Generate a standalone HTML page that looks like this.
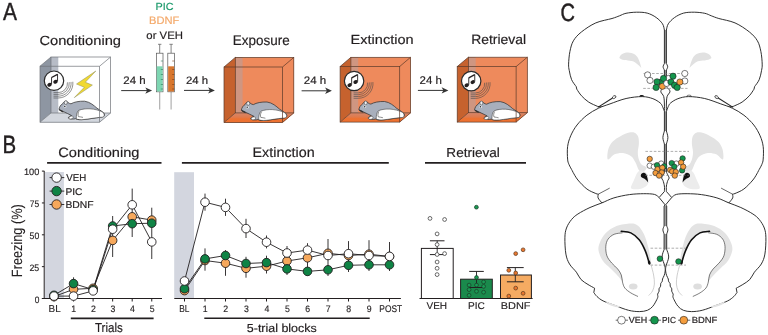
<!DOCTYPE html>
<html><head><meta charset="utf-8"><style>
html,body{margin:0;padding:0;background:#fff;}
svg{display:block;will-change:transform;}
text{font-family:"Liberation Sans", sans-serif;text-rendering:geometricPrecision;}
</style></head><body>
<svg width="768" height="335" viewBox="0 0 768 335">
<defs><linearGradient id="floorg" x1="0" y1="0" x2="0" y2="1"><stop offset="0" stop-color="#d5866a"/><stop offset="0.45" stop-color="#e07a4c"/><stop offset="0.62" stop-color="#ec7232"/><stop offset="1" stop-color="#ee7130"/></linearGradient></defs>
<rect width="768" height="335" fill="#fff"/>
<text x="3.06" y="20.20" font-size="24.855" textLength="13.98" lengthAdjust="spacingAndGlyphs" fill="#231f20" stroke="#231f20" stroke-width="0.45" stroke-linejoin="round">A</text><text x="39.45" y="44.80" font-size="13.249" textLength="81.59" lengthAdjust="spacingAndGlyphs" fill="#231f20" stroke="#231f20" stroke-width="0.18" stroke-linejoin="round">Conditioning</text><text x="155.41" y="10.00" font-size="10.312" textLength="18.10" lengthAdjust="spacingAndGlyphs" fill="#1d9a6c" stroke="#1d9a6c" stroke-width="0.18" stroke-linejoin="round">PIC</text><text x="149.09" y="24.40" font-size="10.901" textLength="30.26" lengthAdjust="spacingAndGlyphs" fill="#f4a96a" stroke="#f4a96a" stroke-width="0.18" stroke-linejoin="round">BDNF</text><text x="146.32" y="38.60" font-size="10.901" textLength="36.60" lengthAdjust="spacingAndGlyphs" fill="#231f20" stroke="#231f20" stroke-width="0.18" stroke-linejoin="round">or VEH</text><text x="232.80" y="44.90" font-size="13.954" textLength="56.90" lengthAdjust="spacingAndGlyphs" fill="#231f20" stroke="#231f20" stroke-width="0.18" stroke-linejoin="round">Exposure</text><text x="350.61" y="44.10" font-size="13.249" textLength="63.04" lengthAdjust="spacingAndGlyphs" fill="#231f20" stroke="#231f20" stroke-width="0.18" stroke-linejoin="round">Extinction</text><text x="471.16" y="44.20" font-size="13.525" textLength="54.97" lengthAdjust="spacingAndGlyphs" fill="#231f20" stroke="#231f20" stroke-width="0.18" stroke-linejoin="round">Retrieval</text><text x="123.32" y="84.20" font-size="10.902" textLength="22.32" lengthAdjust="spacingAndGlyphs" fill="#231f20" stroke="#231f20" stroke-width="0.2" stroke-linejoin="round">24 h</text><text x="186.03" y="83.90" font-size="10.764" textLength="22.11" lengthAdjust="spacingAndGlyphs" fill="#231f20" stroke="#231f20" stroke-width="0.2" stroke-linejoin="round">24 h</text><text x="303.72" y="84.20" font-size="10.902" textLength="22.43" lengthAdjust="spacingAndGlyphs" fill="#231f20" stroke="#231f20" stroke-width="0.2" stroke-linejoin="round">24 h</text><text x="419.62" y="83.90" font-size="11.178" textLength="22.32" lengthAdjust="spacingAndGlyphs" fill="#231f20" stroke="#231f20" stroke-width="0.2" stroke-linejoin="round">24 h</text><line x1="121.2" y1="90.6" x2="149.1" y2="90.6" stroke="#333" stroke-width="1"/><path d="M152.1,90.6 L145.29999999999998,87.39999999999999 L147.1,90.6 L145.29999999999998,93.8 Z" fill="#333"/><line x1="184" y1="90.4" x2="211.9" y2="90.4" stroke="#333" stroke-width="1"/><path d="M214.9,90.4 L208.1,87.2 L209.9,90.4 L208.1,93.60000000000001 Z" fill="#333"/><line x1="301.6" y1="90.8" x2="328.9" y2="90.8" stroke="#333" stroke-width="1"/><path d="M331.9,90.8 L325.09999999999997,87.6 L326.9,90.8 L325.09999999999997,94.0 Z" fill="#333"/><line x1="417.9" y1="90.4" x2="445.4" y2="90.4" stroke="#333" stroke-width="1"/><path d="M448.4,90.4 L441.59999999999997,87.2 L443.4,90.4 L441.59999999999997,93.60000000000001 Z" fill="#333"/><line x1="159.70000000000002" y1="91.8" x2="159.70000000000002" y2="109.6" stroke="#a9a9a9" stroke-width="1.1"/><line x1="159.70000000000002" y1="44.3" x2="159.70000000000002" y2="53.2" stroke="#666" stroke-width="0.8"/><line x1="158.00000000000003" y1="44.3" x2="161.4" y2="44.3" stroke="#666" stroke-width="0.8"/><rect x="156.4" y="53.2" width="6.6" height="38.6" fill="#fff" stroke="#555" stroke-width="0.7"/><rect x="156.75" y="66.3" width="5.8999999999999995" height="25.2" fill="#7ed6b2"/><line x1="160.8" y1="61" x2="163.0" y2="61" stroke="#2b7a5b" stroke-width="0.6"/><line x1="160.8" y1="69.5" x2="163.0" y2="69.5" stroke="#2b7a5b" stroke-width="0.6"/><line x1="160.8" y1="74.5" x2="163.0" y2="74.5" stroke="#2b7a5b" stroke-width="0.6"/><line x1="160.8" y1="79.5" x2="163.0" y2="79.5" stroke="#2b7a5b" stroke-width="0.6"/><line x1="160.8" y1="84.5" x2="163.0" y2="84.5" stroke="#2b7a5b" stroke-width="0.6"/><line x1="160.8" y1="89" x2="163.0" y2="89" stroke="#2b7a5b" stroke-width="0.6"/><line x1="171.10000000000002" y1="91.8" x2="171.10000000000002" y2="109.6" stroke="#a9a9a9" stroke-width="1.1"/><line x1="171.10000000000002" y1="44.3" x2="171.10000000000002" y2="53.2" stroke="#666" stroke-width="0.8"/><line x1="169.40000000000003" y1="44.3" x2="172.8" y2="44.3" stroke="#666" stroke-width="0.8"/><rect x="167.8" y="53.2" width="6.6" height="38.6" fill="#fff" stroke="#555" stroke-width="0.7"/><rect x="168.15" y="66.3" width="5.8999999999999995" height="25.2" fill="#d8772f"/><line x1="172.20000000000002" y1="61" x2="174.4" y2="61" stroke="#7a3a10" stroke-width="0.6"/><line x1="172.20000000000002" y1="69.5" x2="174.4" y2="69.5" stroke="#7a3a10" stroke-width="0.6"/><line x1="172.20000000000002" y1="74.5" x2="174.4" y2="74.5" stroke="#7a3a10" stroke-width="0.6"/><line x1="172.20000000000002" y1="79.5" x2="174.4" y2="79.5" stroke="#7a3a10" stroke-width="0.6"/><line x1="172.20000000000002" y1="84.5" x2="174.4" y2="84.5" stroke="#7a3a10" stroke-width="0.6"/><line x1="172.20000000000002" y1="89" x2="174.4" y2="89" stroke="#7a3a10" stroke-width="0.6"/><g><rect x="51" y="57.0" width="59.6" height="56" fill="#ffffff"/><rect x="51" y="57.0" width="7.3" height="56" fill="#b7bcc6"/><polygon points="40,66.2 51,57.0 51,113.0 40,122.2" fill="#8e96a2"/><polygon points="40,122.2 51,113.0 110.6,113.0 99.6,122.2" fill="#d3d7de"/><polygon points="99.6,66.2 110.6,57.0 110.6,113.0 99.6,122.2" fill="#fff"/><polygon points="40,122.2 51,113.0 110.6,113.0 99.6,122.2" fill="#d3d7de"/><rect x="51" y="57.0" width="59.6" height="56" stroke="#6f7378" stroke-width="0.7" fill="none"/><line x1="40" y1="66.2" x2="51" y2="57.0" stroke="#6f7378" stroke-width="0.7" fill="none"/><line x1="99.6" y1="66.2" x2="110.6" y2="57.0" stroke="#6f7378" stroke-width="0.7" fill="none"/><line x1="40" y1="122.2" x2="51" y2="113.0" stroke="#6f7378" stroke-width="0.7" fill="none"/><line x1="99.6" y1="122.2" x2="110.6" y2="113.0" stroke="#6f7378" stroke-width="0.7" fill="none"/><path d="M67.45,82.33 A9.3,9.3 0 0 1 58.20,92.60 L53.50,92.60" fill="none" stroke="#4a4a4a" stroke-width="0.6"/><path d="M69.24,82.14 A11.1,11.1 0 0 1 58.20,94.40 L53.50,94.40" fill="none" stroke="#4a4a4a" stroke-width="0.6"/><path d="M71.03,81.95 A12.9,12.9 0 0 1 58.20,96.20 L53.50,96.20" fill="none" stroke="#4a4a4a" stroke-width="0.6"/><path d="M72.82,81.76 A14.7,14.7 0 0 1 58.20,98.00 L53.50,98.00" fill="none" stroke="#4a4a4a" stroke-width="0.6"/><circle cx="54.0" cy="80.7" r="9.7" fill="#fff" stroke="#2a2a2a" stroke-width="1.2"/><g fill="#231f20" stroke="#231f20"><ellipse cx="49.5" cy="84.8" rx="2.3" ry="1.85" transform="rotate(-25 49.5 84.8)" stroke="none"/><ellipse cx="55.5" cy="81.7" rx="2.3" ry="1.85" transform="rotate(-25 55.5 81.7)" stroke="none"/><line x1="51.55" y1="84.3" x2="51.55" y2="77.3" stroke-width="0.9"/><line x1="57.55" y1="81.2" x2="57.55" y2="74.10000000000001" stroke-width="0.9"/><path d="M51.55,77.5 L57.55,74.3" stroke-width="1.35" fill="none"/></g><polygon points="95.8,71 76.5,84 84.3,87.3 74.3,97.6 92.4,85.1 85.3,82.3" fill="#f1d930" stroke="#8a8a5a" stroke-width="0.5" stroke-linejoin="miter"/><g transform="translate(59.0,109.4)"><path d="M0,0 C0.2,-2.2 1.6,-4.6 3.8,-5.8 C4.5,-8 7.8,-9.4 8.8,-7 C10,-6.2 11,-5.6 12,-5.6 C15,-7.4 20,-8.4 25.6,-8.2 C31,-7.5 35,-3.8 38,-1.2 C41,1 44.8,2.6 45.4,4.8 C45.8,6.6 44.5,7.6 41.5,7.9 C36,8.4 30,9.6 25,10.1 C21,10.5 18,10.3 16.5,9.3 C15,9.9 11,9.9 9.4,8.7 C8.8,7.7 11,6.7 12.5,6.1 C10,5 7,3.2 4,2 C2.5,1.5 0.8,1 0,0 Z" fill="#a8afbc" stroke="#333" stroke-width="0.75" stroke-linejoin="round"/><path d="M17.3,9.4 C17.4,6 17.6,3 19.6,1.0 C23,-0.4 27,-0.8 31,-0.6 C35.5,-0.3 40,0.8 43.5,2.6 C45.3,4 45.8,6.2 44.5,7.5 C43,7.9 42,7.9 41.5,7.9 C36,8.4 30,9.6 25,10.1 C21,10.5 18.5,10.2 17.3,9.4 Z" fill="#fff" stroke="#333" stroke-width="0.55"/><path d="M20,1.8 C19,3.6 18.8,5.6 19.4,7.2 C20.8,7.6 22.5,7.4 24,8.0" fill="none" stroke="#333" stroke-width="0.55"/><path d="M9.6,8.6 C10,7.3 12,6.5 13.6,6.7 C14.6,7.7 14.2,9.3 12,9.6 C10.8,9.7 9.8,9.4 9.6,8.6 Z" fill="#fff" stroke="#333" stroke-width="0.5"/><ellipse cx="6.8" cy="-6.8" rx="1.5" ry="1.9" fill="#eef0f3" stroke="#333" stroke-width="0.5"/><ellipse cx="6.0" cy="-3.0" rx="1.4" ry="1.2" fill="#e8ebef"/><circle cx="5.8" cy="-3.0" r="0.7" fill="#222"/><path d="M-0.2,0.1 C0.5,1.4 2.2,2.6 4.4,3.0 C4.6,2.0 3.6,1.2 2.2,0.6 C1.2,0.2 0.6,-0.4 -0.2,0.1 Z" fill="#333"/></g><rect x="40" y="66.2" width="59.6" height="56" stroke="#6f7378" stroke-width="0.7" fill="none"/></g><g><rect x="235.3" y="57.4" width="58.5" height="55.5" fill="#ee8a5c"/><rect x="235.3" y="57.4" width="7.3" height="55.5" fill="#cf9681"/><polygon points="224,67.0 235.3,57.4 235.3,112.9 224,122.5" fill="#c6622e"/><polygon points="224,122.5 235.3,112.9 293.8,112.9 282.5,122.5" fill="#e8743c"/><polygon points="282.5,67.0 293.8,57.4 293.8,112.9 282.5,122.5" fill="#ee8a5c"/><polygon points="224,122.5 235.3,112.9 293.8,112.9 282.5,122.5" fill="url(#floorg)"/><rect x="235.3" y="57.4" width="58.5" height="55.5" stroke="#5a3a2a" stroke-width="0.7" fill="none"/><line x1="224" y1="67.0" x2="235.3" y2="57.4" stroke="#5a3a2a" stroke-width="0.7" fill="none"/><line x1="282.5" y1="67.0" x2="293.8" y2="57.4" stroke="#5a3a2a" stroke-width="0.7" fill="none"/><line x1="224" y1="122.5" x2="235.3" y2="112.9" stroke="#5a3a2a" stroke-width="0.7" fill="none"/><line x1="282.5" y1="122.5" x2="293.8" y2="112.9" stroke="#5a3a2a" stroke-width="0.7" fill="none"/><g transform="translate(241.4,110.2)"><path d="M0,0 C0.2,-2.2 1.6,-4.6 3.8,-5.8 C4.5,-8 7.8,-9.4 8.8,-7 C10,-6.2 11,-5.6 12,-5.6 C15,-7.4 20,-8.4 25.6,-8.2 C31,-7.5 35,-3.8 38,-1.2 C41,1 44.8,2.6 45.4,4.8 C45.8,6.6 44.5,7.6 41.5,7.9 C36,8.4 30,9.6 25,10.1 C21,10.5 18,10.3 16.5,9.3 C15,9.9 11,9.9 9.4,8.7 C8.8,7.7 11,6.7 12.5,6.1 C10,5 7,3.2 4,2 C2.5,1.5 0.8,1 0,0 Z" fill="#a8afbc" stroke="#333" stroke-width="0.75" stroke-linejoin="round"/><path d="M17.3,9.4 C17.4,6 17.6,3 19.6,1.0 C23,-0.4 27,-0.8 31,-0.6 C35.5,-0.3 40,0.8 43.5,2.6 C45.3,4 45.8,6.2 44.5,7.5 C43,7.9 42,7.9 41.5,7.9 C36,8.4 30,9.6 25,10.1 C21,10.5 18.5,10.2 17.3,9.4 Z" fill="#fff" stroke="#333" stroke-width="0.55"/><path d="M20,1.8 C19,3.6 18.8,5.6 19.4,7.2 C20.8,7.6 22.5,7.4 24,8.0" fill="none" stroke="#333" stroke-width="0.55"/><path d="M9.6,8.6 C10,7.3 12,6.5 13.6,6.7 C14.6,7.7 14.2,9.3 12,9.6 C10.8,9.7 9.8,9.4 9.6,8.6 Z" fill="#fff" stroke="#333" stroke-width="0.5"/><ellipse cx="6.8" cy="-6.8" rx="1.5" ry="1.9" fill="#eef0f3" stroke="#333" stroke-width="0.5"/><ellipse cx="6.0" cy="-3.0" rx="1.4" ry="1.2" fill="#e8ebef"/><circle cx="5.8" cy="-3.0" r="0.7" fill="#222"/><path d="M-0.2,0.1 C0.5,1.4 2.2,2.6 4.4,3.0 C4.6,2.0 3.6,1.2 2.2,0.6 C1.2,0.2 0.6,-0.4 -0.2,0.1 Z" fill="#333"/></g><rect x="224" y="67.0" width="58.5" height="55.5" stroke="#5a3a2a" stroke-width="0.7" fill="none"/></g><g><rect x="350.90000000000003" y="57.3" width="59.6" height="55.6" fill="#ee8a5c"/><rect x="350.90000000000003" y="57.3" width="7.3" height="55.6" fill="#cf9681"/><polygon points="340.1,66.5 350.90000000000003,57.3 350.90000000000003,112.9 340.1,122.1" fill="#c6622e"/><polygon points="340.1,122.1 350.90000000000003,112.9 410.50000000000006,112.9 399.70000000000005,122.1" fill="#e8743c"/><polygon points="399.70000000000005,66.5 410.50000000000006,57.3 410.50000000000006,112.9 399.70000000000005,122.1" fill="#ee8a5c"/><polygon points="340.1,122.1 350.90000000000003,112.9 410.50000000000006,112.9 399.70000000000005,122.1" fill="url(#floorg)"/><rect x="350.90000000000003" y="57.3" width="59.6" height="55.6" stroke="#5a3a2a" stroke-width="0.7" fill="none"/><line x1="340.1" y1="66.5" x2="350.90000000000003" y2="57.3" stroke="#5a3a2a" stroke-width="0.7" fill="none"/><line x1="399.70000000000005" y1="66.5" x2="410.50000000000006" y2="57.3" stroke="#5a3a2a" stroke-width="0.7" fill="none"/><line x1="340.1" y1="122.1" x2="350.90000000000003" y2="112.89999999999999" stroke="#5a3a2a" stroke-width="0.7" fill="none"/><line x1="399.70000000000005" y1="122.1" x2="410.50000000000006" y2="112.89999999999999" stroke="#5a3a2a" stroke-width="0.7" fill="none"/><path d="M367.55,82.63 A9.3,9.3 0 0 1 358.30,92.90 L353.60,92.90" fill="none" stroke="#4a4a4a" stroke-width="0.6"/><path d="M369.34,82.44 A11.1,11.1 0 0 1 358.30,94.70 L353.60,94.70" fill="none" stroke="#4a4a4a" stroke-width="0.6"/><path d="M371.13,82.25 A12.9,12.9 0 0 1 358.30,96.50 L353.60,96.50" fill="none" stroke="#4a4a4a" stroke-width="0.6"/><path d="M372.92,82.06 A14.7,14.7 0 0 1 358.30,98.30 L353.60,98.30" fill="none" stroke="#4a4a4a" stroke-width="0.6"/><circle cx="354.1" cy="81.0" r="9.7" fill="#fff" stroke="#2a2a2a" stroke-width="1.2"/><g fill="#231f20" stroke="#231f20"><ellipse cx="349.6" cy="85.1" rx="2.3" ry="1.85" transform="rotate(-25 349.6 85.1)" stroke="none"/><ellipse cx="355.6" cy="82.0" rx="2.3" ry="1.85" transform="rotate(-25 355.6 82.0)" stroke="none"/><line x1="351.65000000000003" y1="84.6" x2="351.65000000000003" y2="77.6" stroke-width="0.9"/><line x1="357.65000000000003" y1="81.5" x2="357.65000000000003" y2="74.4" stroke-width="0.9"/><path d="M351.65000000000003,77.8 L357.65000000000003,74.6" stroke-width="1.35" fill="none"/></g><g transform="translate(358.90000000000003,109.7)"><path d="M0,0 C0.2,-2.2 1.6,-4.6 3.8,-5.8 C4.5,-8 7.8,-9.4 8.8,-7 C10,-6.2 11,-5.6 12,-5.6 C15,-7.4 20,-8.4 25.6,-8.2 C31,-7.5 35,-3.8 38,-1.2 C41,1 44.8,2.6 45.4,4.8 C45.8,6.6 44.5,7.6 41.5,7.9 C36,8.4 30,9.6 25,10.1 C21,10.5 18,10.3 16.5,9.3 C15,9.9 11,9.9 9.4,8.7 C8.8,7.7 11,6.7 12.5,6.1 C10,5 7,3.2 4,2 C2.5,1.5 0.8,1 0,0 Z" fill="#a8afbc" stroke="#333" stroke-width="0.75" stroke-linejoin="round"/><path d="M17.3,9.4 C17.4,6 17.6,3 19.6,1.0 C23,-0.4 27,-0.8 31,-0.6 C35.5,-0.3 40,0.8 43.5,2.6 C45.3,4 45.8,6.2 44.5,7.5 C43,7.9 42,7.9 41.5,7.9 C36,8.4 30,9.6 25,10.1 C21,10.5 18.5,10.2 17.3,9.4 Z" fill="#fff" stroke="#333" stroke-width="0.55"/><path d="M20,1.8 C19,3.6 18.8,5.6 19.4,7.2 C20.8,7.6 22.5,7.4 24,8.0" fill="none" stroke="#333" stroke-width="0.55"/><path d="M9.6,8.6 C10,7.3 12,6.5 13.6,6.7 C14.6,7.7 14.2,9.3 12,9.6 C10.8,9.7 9.8,9.4 9.6,8.6 Z" fill="#fff" stroke="#333" stroke-width="0.5"/><ellipse cx="6.8" cy="-6.8" rx="1.5" ry="1.9" fill="#eef0f3" stroke="#333" stroke-width="0.5"/><ellipse cx="6.0" cy="-3.0" rx="1.4" ry="1.2" fill="#e8ebef"/><circle cx="5.8" cy="-3.0" r="0.7" fill="#222"/><path d="M-0.2,0.1 C0.5,1.4 2.2,2.6 4.4,3.0 C4.6,2.0 3.6,1.2 2.2,0.6 C1.2,0.2 0.6,-0.4 -0.2,0.1 Z" fill="#333"/></g><rect x="340.1" y="66.5" width="59.6" height="55.6" stroke="#5a3a2a" stroke-width="0.7" fill="none"/></g><g><rect x="468.4" y="57.199999999999996" width="58.9" height="55.5" fill="#ee8a5c"/><rect x="468.4" y="57.199999999999996" width="7.3" height="55.5" fill="#cf9681"/><polygon points="457.2,66.6 468.4,57.199999999999996 468.4,112.69999999999999 457.2,122.1" fill="#c6622e"/><polygon points="457.2,122.1 468.4,112.69999999999999 527.3,112.69999999999999 516.1,122.1" fill="#e8743c"/><polygon points="516.1,66.6 527.3,57.199999999999996 527.3,112.69999999999999 516.1,122.1" fill="#ee8a5c"/><polygon points="457.2,122.1 468.4,112.69999999999999 527.3,112.69999999999999 516.1,122.1" fill="url(#floorg)"/><rect x="468.4" y="57.199999999999996" width="58.9" height="55.5" stroke="#5a3a2a" stroke-width="0.7" fill="none"/><line x1="457.2" y1="66.6" x2="468.4" y2="57.199999999999996" stroke="#5a3a2a" stroke-width="0.7" fill="none"/><line x1="516.1" y1="66.6" x2="527.3000000000001" y2="57.199999999999996" stroke="#5a3a2a" stroke-width="0.7" fill="none"/><line x1="457.2" y1="122.1" x2="468.4" y2="112.69999999999999" stroke="#5a3a2a" stroke-width="0.7" fill="none"/><line x1="516.1" y1="122.1" x2="527.3000000000001" y2="112.69999999999999" stroke="#5a3a2a" stroke-width="0.7" fill="none"/><path d="M484.65,82.73 A9.3,9.3 0 0 1 475.40,93.00 L470.70,93.00" fill="none" stroke="#4a4a4a" stroke-width="0.6"/><path d="M486.44,82.54 A11.1,11.1 0 0 1 475.40,94.80 L470.70,94.80" fill="none" stroke="#4a4a4a" stroke-width="0.6"/><path d="M488.23,82.35 A12.9,12.9 0 0 1 475.40,96.60 L470.70,96.60" fill="none" stroke="#4a4a4a" stroke-width="0.6"/><path d="M490.02,82.16 A14.7,14.7 0 0 1 475.40,98.40 L470.70,98.40" fill="none" stroke="#4a4a4a" stroke-width="0.6"/><circle cx="471.2" cy="81.1" r="9.7" fill="#fff" stroke="#2a2a2a" stroke-width="1.2"/><g fill="#231f20" stroke="#231f20"><ellipse cx="466.7" cy="85.19999999999999" rx="2.3" ry="1.85" transform="rotate(-25 466.7 85.19999999999999)" stroke="none"/><ellipse cx="472.7" cy="82.1" rx="2.3" ry="1.85" transform="rotate(-25 472.7 82.1)" stroke="none"/><line x1="468.75" y1="84.69999999999999" x2="468.75" y2="77.69999999999999" stroke-width="0.9"/><line x1="474.75" y1="81.6" x2="474.75" y2="74.5" stroke-width="0.9"/><path d="M468.75,77.89999999999999 L474.75,74.69999999999999" stroke-width="1.35" fill="none"/></g><g transform="translate(474.59999999999997,109.8)"><path d="M0,0 C0.2,-2.2 1.6,-4.6 3.8,-5.8 C4.5,-8 7.8,-9.4 8.8,-7 C10,-6.2 11,-5.6 12,-5.6 C15,-7.4 20,-8.4 25.6,-8.2 C31,-7.5 35,-3.8 38,-1.2 C41,1 44.8,2.6 45.4,4.8 C45.8,6.6 44.5,7.6 41.5,7.9 C36,8.4 30,9.6 25,10.1 C21,10.5 18,10.3 16.5,9.3 C15,9.9 11,9.9 9.4,8.7 C8.8,7.7 11,6.7 12.5,6.1 C10,5 7,3.2 4,2 C2.5,1.5 0.8,1 0,0 Z" fill="#a8afbc" stroke="#333" stroke-width="0.75" stroke-linejoin="round"/><path d="M17.3,9.4 C17.4,6 17.6,3 19.6,1.0 C23,-0.4 27,-0.8 31,-0.6 C35.5,-0.3 40,0.8 43.5,2.6 C45.3,4 45.8,6.2 44.5,7.5 C43,7.9 42,7.9 41.5,7.9 C36,8.4 30,9.6 25,10.1 C21,10.5 18.5,10.2 17.3,9.4 Z" fill="#fff" stroke="#333" stroke-width="0.55"/><path d="M20,1.8 C19,3.6 18.8,5.6 19.4,7.2 C20.8,7.6 22.5,7.4 24,8.0" fill="none" stroke="#333" stroke-width="0.55"/><path d="M9.6,8.6 C10,7.3 12,6.5 13.6,6.7 C14.6,7.7 14.2,9.3 12,9.6 C10.8,9.7 9.8,9.4 9.6,8.6 Z" fill="#fff" stroke="#333" stroke-width="0.5"/><ellipse cx="6.8" cy="-6.8" rx="1.5" ry="1.9" fill="#eef0f3" stroke="#333" stroke-width="0.5"/><ellipse cx="6.0" cy="-3.0" rx="1.4" ry="1.2" fill="#e8ebef"/><circle cx="5.8" cy="-3.0" r="0.7" fill="#222"/><path d="M-0.2,0.1 C0.5,1.4 2.2,2.6 4.4,3.0 C4.6,2.0 3.6,1.2 2.2,0.6 C1.2,0.2 0.6,-0.4 -0.2,0.1 Z" fill="#333"/></g><rect x="457.2" y="66.6" width="58.9" height="55.5" stroke="#5a3a2a" stroke-width="0.7" fill="none"/></g><text x="2.42" y="152.60" font-size="25.000" textLength="13.66" lengthAdjust="spacingAndGlyphs" fill="#231f20" stroke="#231f20" stroke-width="0.45" stroke-linejoin="round">B</text><text x="58.26" y="156.90" font-size="13.525" textLength="81.18" lengthAdjust="spacingAndGlyphs" fill="#231f20" stroke="#231f20" stroke-width="0.18" stroke-linejoin="round">Conditioning</text><text x="252.57" y="156.90" font-size="13.801" textLength="62.11" lengthAdjust="spacingAndGlyphs" fill="#231f20" stroke="#231f20" stroke-width="0.18" stroke-linejoin="round">Extinction</text><text x="446.39" y="156.90" font-size="12.973" textLength="53.52" lengthAdjust="spacingAndGlyphs" fill="#231f20" stroke="#231f20" stroke-width="0.18" stroke-linejoin="round">Retrieval</text><line x1="47.1" y1="162.9" x2="161.5" y2="162.9" stroke="#231f20" stroke-width="1.8" /><line x1="181.9" y1="162.9" x2="388.8" y2="162.9" stroke="#231f20" stroke-width="1.8" /><line x1="425" y1="162.9" x2="526" y2="162.9" stroke="#231f20" stroke-width="1.8" /><rect x="44.7" y="172" width="19.2" height="126.5" fill="#d3d6df"/><rect x="174.2" y="172.2" width="19.8" height="126.30000000000001" fill="#d3d6df"/><line x1="44.2" y1="170.9" x2="44.2" y2="298.9" stroke="#231f20" stroke-width="1.0" /><line x1="41.9" y1="298.5" x2="44.2" y2="298.5" stroke="#231f20" stroke-width="1.0" /><text x="34.87" y="302.50" font-size="9.309" textLength="4.65" lengthAdjust="spacingAndGlyphs" fill="#231f20" stroke="#231f20" stroke-width="0.15" stroke-linejoin="round">0</text><line x1="41.9" y1="266.65" x2="44.2" y2="266.65" stroke="#231f20" stroke-width="1.0" /><text x="29.46" y="270.65" font-size="9.309" textLength="9.81" lengthAdjust="spacingAndGlyphs" fill="#231f20" stroke="#231f20" stroke-width="0.15" stroke-linejoin="round">25</text><line x1="41.9" y1="234.8" x2="44.2" y2="234.8" stroke="#231f20" stroke-width="1.0" /><text x="29.55" y="238.80" font-size="9.309" textLength="9.69" lengthAdjust="spacingAndGlyphs" fill="#231f20" stroke="#231f20" stroke-width="0.15" stroke-linejoin="round">50</text><line x1="41.9" y1="202.95" x2="44.2" y2="202.95" stroke="#231f20" stroke-width="1.0" /><text x="29.87" y="206.95" font-size="9.448" textLength="9.39" lengthAdjust="spacingAndGlyphs" fill="#231f20" stroke="#231f20" stroke-width="0.15" stroke-linejoin="round">75</text><line x1="41.9" y1="171.1" x2="44.2" y2="171.1" stroke="#231f20" stroke-width="1.0" /><text x="23.90" y="175.10" font-size="9.309" textLength="15.36" lengthAdjust="spacingAndGlyphs" fill="#231f20" stroke="#231f20" stroke-width="0.15" stroke-linejoin="round">100</text><text transform="translate(22.3,276.1) rotate(-90)" x="-1.05" y="0" font-size="14.826" textLength="72.94" lengthAdjust="spacingAndGlyphs" fill="#231f20" stroke="#231f20" stroke-width="0.1">Freezing (%)</text><line x1="41.9" y1="298.5" x2="162" y2="298.5" stroke="#231f20" stroke-width="1.0" /><line x1="174.3" y1="298.5" x2="400.9" y2="298.5" stroke="#231f20" stroke-width="1.0" /><line x1="419.5" y1="298.5" x2="532.6" y2="298.5" stroke="#231f20" stroke-width="1.0" /><line x1="54.0" y1="298.5" x2="54.0" y2="301.5" stroke="#231f20" stroke-width="1.0" /><text x="48.59" y="312.10" font-size="10.029" textLength="12.14" lengthAdjust="spacingAndGlyphs" fill="#231f20" stroke="#231f20" stroke-width="0.15" stroke-linejoin="round">BL</text><line x1="73.55" y1="298.5" x2="73.55" y2="301.5" stroke="#231f20" stroke-width="1.0" /><text x="71.30" y="312.00" font-size="9.400" textLength="4.86" lengthAdjust="spacingAndGlyphs" fill="#231f20" stroke="#231f20" stroke-width="0.15" stroke-linejoin="round">1</text><line x1="93.1" y1="298.5" x2="93.1" y2="301.5" stroke="#231f20" stroke-width="1.0" /><text x="90.97" y="312.00" font-size="9.400" textLength="4.86" lengthAdjust="spacingAndGlyphs" fill="#231f20" stroke="#231f20" stroke-width="0.15" stroke-linejoin="round">2</text><line x1="112.65" y1="298.5" x2="112.65" y2="301.5" stroke="#231f20" stroke-width="1.0" /><text x="110.54" y="312.00" font-size="9.400" textLength="4.86" lengthAdjust="spacingAndGlyphs" fill="#231f20" stroke="#231f20" stroke-width="0.15" stroke-linejoin="round">3</text><line x1="132.2" y1="298.5" x2="132.2" y2="301.5" stroke="#231f20" stroke-width="1.0" /><text x="130.10" y="312.00" font-size="9.400" textLength="4.86" lengthAdjust="spacingAndGlyphs" fill="#231f20" stroke="#231f20" stroke-width="0.15" stroke-linejoin="round">4</text><line x1="151.75" y1="298.5" x2="151.75" y2="301.5" stroke="#231f20" stroke-width="1.0" /><text x="149.63" y="312.00" font-size="9.400" textLength="4.86" lengthAdjust="spacingAndGlyphs" fill="#231f20" stroke="#231f20" stroke-width="0.15" stroke-linejoin="round">5</text><line x1="184.5" y1="298.5" x2="184.5" y2="301.5" stroke="#231f20" stroke-width="1.0" /><text x="179.22" y="312.10" font-size="10.029" textLength="10.16" lengthAdjust="spacingAndGlyphs" fill="#231f20" stroke="#231f20" stroke-width="0.15" stroke-linejoin="round">BL</text><line x1="205.0" y1="298.5" x2="205.0" y2="301.5" stroke="#231f20" stroke-width="1.0" /><text x="202.75" y="312.00" font-size="9.400" textLength="4.86" lengthAdjust="spacingAndGlyphs" fill="#231f20" stroke="#231f20" stroke-width="0.15" stroke-linejoin="round">1</text><line x1="225.5" y1="298.5" x2="225.5" y2="301.5" stroke="#231f20" stroke-width="1.0" /><text x="223.37" y="312.00" font-size="9.400" textLength="4.86" lengthAdjust="spacingAndGlyphs" fill="#231f20" stroke="#231f20" stroke-width="0.15" stroke-linejoin="round">2</text><line x1="246.0" y1="298.5" x2="246.0" y2="301.5" stroke="#231f20" stroke-width="1.0" /><text x="243.89" y="312.00" font-size="9.400" textLength="4.86" lengthAdjust="spacingAndGlyphs" fill="#231f20" stroke="#231f20" stroke-width="0.15" stroke-linejoin="round">3</text><line x1="266.5" y1="298.5" x2="266.5" y2="301.5" stroke="#231f20" stroke-width="1.0" /><text x="264.40" y="312.00" font-size="9.400" textLength="4.86" lengthAdjust="spacingAndGlyphs" fill="#231f20" stroke="#231f20" stroke-width="0.15" stroke-linejoin="round">4</text><line x1="287.0" y1="298.5" x2="287.0" y2="301.5" stroke="#231f20" stroke-width="1.0" /><text x="284.88" y="312.00" font-size="9.400" textLength="4.86" lengthAdjust="spacingAndGlyphs" fill="#231f20" stroke="#231f20" stroke-width="0.15" stroke-linejoin="round">5</text><line x1="307.5" y1="298.5" x2="307.5" y2="301.5" stroke="#231f20" stroke-width="1.0" /><text x="305.34" y="312.00" font-size="9.400" textLength="4.86" lengthAdjust="spacingAndGlyphs" fill="#231f20" stroke="#231f20" stroke-width="0.15" stroke-linejoin="round">6</text><line x1="328.0" y1="298.5" x2="328.0" y2="301.5" stroke="#231f20" stroke-width="1.0" /><text x="325.86" y="312.00" font-size="9.400" textLength="4.86" lengthAdjust="spacingAndGlyphs" fill="#231f20" stroke="#231f20" stroke-width="0.15" stroke-linejoin="round">7</text><line x1="348.5" y1="298.5" x2="348.5" y2="301.5" stroke="#231f20" stroke-width="1.0" /><text x="346.37" y="312.00" font-size="9.400" textLength="4.86" lengthAdjust="spacingAndGlyphs" fill="#231f20" stroke="#231f20" stroke-width="0.15" stroke-linejoin="round">8</text><line x1="369.0" y1="298.5" x2="369.0" y2="301.5" stroke="#231f20" stroke-width="1.0" /><text x="366.87" y="312.00" font-size="9.400" textLength="4.86" lengthAdjust="spacingAndGlyphs" fill="#231f20" stroke="#231f20" stroke-width="0.15" stroke-linejoin="round">9</text><line x1="389.5" y1="298.5" x2="389.5" y2="301.5" stroke="#231f20" stroke-width="1.0" /><text x="379.31" y="311.90" font-size="9.739" textLength="22.78" lengthAdjust="spacingAndGlyphs" fill="#231f20" stroke="#231f20" stroke-width="0.15" stroke-linejoin="round">POST</text><line x1="70.8" y1="318.4" x2="153.6" y2="318.4" stroke="#231f20" stroke-width="1.6" /><text x="94.94" y="332.30" font-size="12.973" textLength="27.77" lengthAdjust="spacingAndGlyphs" fill="#231f20" stroke="#231f20" stroke-width="0.18" stroke-linejoin="round">Trials</text><line x1="204.3" y1="318.3" x2="369.7" y2="318.3" stroke="#231f20" stroke-width="1.6" /><text x="246.80" y="331.80" font-size="11.592" textLength="69.95" lengthAdjust="spacingAndGlyphs" fill="#231f20" stroke="#231f20" stroke-width="0.18" stroke-linejoin="round">5-trial blocks</text><line x1="73.55" y1="277.3" x2="73.55" y2="291" stroke="#231f20" stroke-width="0.9" /><line x1="93.1" y1="286" x2="93.1" y2="293" stroke="#231f20" stroke-width="0.9" /><line x1="112.65" y1="216" x2="112.65" y2="257" stroke="#231f20" stroke-width="0.9" /><line x1="132.2" y1="188.6" x2="132.2" y2="237" stroke="#231f20" stroke-width="0.9" /><line x1="151.75" y1="207.7" x2="151.75" y2="259" stroke="#231f20" stroke-width="0.9" /><polyline points="54.0,296.6 73.55,289.3 93.1,288.3 112.65,240.4 132.2,216.8 151.75,220.1" fill="none" stroke="#231f20" stroke-width="0.9"/><polyline points="54.0,295.3 73.55,283.6 93.1,289.6 112.65,226.0 132.2,223.7 151.75,223.2" fill="none" stroke="#231f20" stroke-width="0.9"/><polyline points="54.0,296.1 73.55,296.1 93.1,290.9 112.65,229.2 132.2,204.8 151.75,241.9" fill="none" stroke="#231f20" stroke-width="0.9"/><circle cx="54.0" cy="296.6" r="4.3" fill="#f6a85c" stroke="#231f20" stroke-width="0.9"/><circle cx="73.55" cy="289.3" r="4.3" fill="#f6a85c" stroke="#231f20" stroke-width="0.9"/><circle cx="93.1" cy="288.3" r="4.3" fill="#f6a85c" stroke="#231f20" stroke-width="0.9"/><circle cx="112.65" cy="240.4" r="4.3" fill="#f6a85c" stroke="#231f20" stroke-width="0.9"/><circle cx="132.2" cy="216.8" r="4.3" fill="#f6a85c" stroke="#231f20" stroke-width="0.9"/><circle cx="151.75" cy="220.1" r="4.3" fill="#f6a85c" stroke="#231f20" stroke-width="0.9"/><circle cx="54.0" cy="295.3" r="4.3" fill="#0f8345" stroke="#231f20" stroke-width="0.9"/><circle cx="73.55" cy="283.6" r="4.3" fill="#0f8345" stroke="#231f20" stroke-width="0.9"/><circle cx="93.1" cy="289.6" r="4.3" fill="#0f8345" stroke="#231f20" stroke-width="0.9"/><circle cx="112.65" cy="226.0" r="4.3" fill="#0f8345" stroke="#231f20" stroke-width="0.9"/><circle cx="132.2" cy="223.7" r="4.3" fill="#0f8345" stroke="#231f20" stroke-width="0.9"/><circle cx="151.75" cy="223.2" r="4.3" fill="#0f8345" stroke="#231f20" stroke-width="0.9"/><circle cx="54.0" cy="296.1" r="4.3" fill="#ffffff" stroke="#231f20" stroke-width="0.9"/><circle cx="73.55" cy="296.1" r="4.3" fill="#ffffff" stroke="#231f20" stroke-width="0.9"/><circle cx="93.1" cy="290.9" r="4.3" fill="#ffffff" stroke="#231f20" stroke-width="0.9"/><circle cx="112.65" cy="229.2" r="4.3" fill="#ffffff" stroke="#231f20" stroke-width="0.9"/><circle cx="132.2" cy="204.8" r="4.3" fill="#ffffff" stroke="#231f20" stroke-width="0.9"/><circle cx="151.75" cy="241.9" r="4.3" fill="#ffffff" stroke="#231f20" stroke-width="0.9"/><line x1="49.6" y1="177.6" x2="64.3" y2="177.6" stroke="#231f20" stroke-width="0.9" /><circle cx="56.6" cy="177.6" r="4.7" fill="#ffffff" stroke="#231f20" stroke-width="0.9"/><text x="66.26" y="181.00" font-size="9.884" textLength="19.93" lengthAdjust="spacingAndGlyphs" fill="#231f20" stroke="#231f20" stroke-width="0.2" stroke-linejoin="round">VEH</text><line x1="49.6" y1="191.1" x2="64.3" y2="191.1" stroke="#231f20" stroke-width="0.9" /><circle cx="56.6" cy="191.1" r="4.7" fill="#0f8345" stroke="#231f20" stroke-width="0.9"/><text x="65.47" y="194.50" font-size="9.739" textLength="16.92" lengthAdjust="spacingAndGlyphs" fill="#231f20" stroke="#231f20" stroke-width="0.2" stroke-linejoin="round">PIC</text><line x1="49.6" y1="204.5" x2="64.3" y2="204.5" stroke="#231f20" stroke-width="0.9" /><circle cx="56.6" cy="204.5" r="4.7" fill="#f6a85c" stroke="#231f20" stroke-width="0.9"/><text x="65.45" y="207.90" font-size="9.884" textLength="28.16" lengthAdjust="spacingAndGlyphs" fill="#231f20" stroke="#231f20" stroke-width="0.2" stroke-linejoin="round">BDNF</text><line x1="205.0" y1="193.6" x2="205.0" y2="210.7" stroke="#231f20" stroke-width="0.9" /><line x1="205.0" y1="248.4" x2="205.0" y2="270.7" stroke="#231f20" stroke-width="0.9" /><line x1="225.5" y1="198.7" x2="225.5" y2="215.9" stroke="#231f20" stroke-width="0.9" /><line x1="225.5" y1="250.1" x2="225.5" y2="275.8" stroke="#231f20" stroke-width="0.9" /><line x1="246.0" y1="218.8" x2="246.0" y2="238" stroke="#231f20" stroke-width="0.9" /><line x1="246.0" y1="256.8" x2="246.0" y2="277.7" stroke="#231f20" stroke-width="0.9" /><line x1="266.5" y1="235.5" x2="266.5" y2="248.4" stroke="#231f20" stroke-width="0.9" /><line x1="266.5" y1="255.7" x2="266.5" y2="273.5" stroke="#231f20" stroke-width="0.9" /><line x1="287.0" y1="246" x2="287.0" y2="259" stroke="#231f20" stroke-width="0.9" /><line x1="287.0" y1="255" x2="287.0" y2="275" stroke="#231f20" stroke-width="0.9" /><line x1="307.5" y1="243.2" x2="307.5" y2="257" stroke="#231f20" stroke-width="0.9" /><line x1="307.5" y1="250" x2="307.5" y2="275.6" stroke="#231f20" stroke-width="0.9" /><line x1="328.0" y1="239" x2="328.0" y2="262" stroke="#231f20" stroke-width="0.9" /><line x1="328.0" y1="262" x2="328.0" y2="276" stroke="#231f20" stroke-width="0.9" /><line x1="348.5" y1="241.1" x2="348.5" y2="262" stroke="#231f20" stroke-width="0.9" /><line x1="348.5" y1="258" x2="348.5" y2="272" stroke="#231f20" stroke-width="0.9" /><line x1="369.0" y1="240.2" x2="369.0" y2="262" stroke="#231f20" stroke-width="0.9" /><line x1="369.0" y1="258" x2="369.0" y2="271" stroke="#231f20" stroke-width="0.9" /><line x1="389.5" y1="242" x2="389.5" y2="262" stroke="#231f20" stroke-width="0.9" /><line x1="389.5" y1="258" x2="389.5" y2="271" stroke="#231f20" stroke-width="0.9" /><polyline points="184.5,290.6 205.0,260.5 225.5,263.2 246.0,268.3 266.5,266.2 287.0,261 307.5,257.8 328.0,253.3 348.5,255.5 369.0,254.2 389.5,256.5" fill="none" stroke="#231f20" stroke-width="0.9"/><polyline points="184.5,288.7 205.0,258.9 225.5,255.5 246.0,263.5 266.5,262.6 287.0,268.9 307.5,271.4 328.0,269.8 348.5,265.3 369.0,264.8 389.5,264.8" fill="none" stroke="#231f20" stroke-width="0.9"/><polyline points="184.5,281 205.0,202.2 225.5,207.4 246.0,228.6 266.5,242.2 287.0,253 307.5,250.1 328.0,255.5 348.5,253.7 369.0,255.5 389.5,256.4" fill="none" stroke="#231f20" stroke-width="0.9"/><circle cx="184.5" cy="290.6" r="4.3" fill="#f6a85c" stroke="#231f20" stroke-width="0.9"/><circle cx="205.0" cy="260.5" r="4.3" fill="#f6a85c" stroke="#231f20" stroke-width="0.9"/><circle cx="225.5" cy="263.2" r="4.3" fill="#f6a85c" stroke="#231f20" stroke-width="0.9"/><circle cx="246.0" cy="268.3" r="4.3" fill="#f6a85c" stroke="#231f20" stroke-width="0.9"/><circle cx="266.5" cy="266.2" r="4.3" fill="#f6a85c" stroke="#231f20" stroke-width="0.9"/><circle cx="287.0" cy="261" r="4.3" fill="#f6a85c" stroke="#231f20" stroke-width="0.9"/><circle cx="307.5" cy="257.8" r="4.3" fill="#f6a85c" stroke="#231f20" stroke-width="0.9"/><circle cx="328.0" cy="253.3" r="4.3" fill="#f6a85c" stroke="#231f20" stroke-width="0.9"/><circle cx="348.5" cy="255.5" r="4.3" fill="#f6a85c" stroke="#231f20" stroke-width="0.9"/><circle cx="369.0" cy="254.2" r="4.3" fill="#f6a85c" stroke="#231f20" stroke-width="0.9"/><circle cx="389.5" cy="256.5" r="4.3" fill="#f6a85c" stroke="#231f20" stroke-width="0.9"/><circle cx="184.5" cy="288.7" r="4.3" fill="#0f8345" stroke="#231f20" stroke-width="0.9"/><circle cx="205.0" cy="258.9" r="4.3" fill="#0f8345" stroke="#231f20" stroke-width="0.9"/><circle cx="225.5" cy="255.5" r="4.3" fill="#0f8345" stroke="#231f20" stroke-width="0.9"/><circle cx="246.0" cy="263.5" r="4.3" fill="#0f8345" stroke="#231f20" stroke-width="0.9"/><circle cx="266.5" cy="262.6" r="4.3" fill="#0f8345" stroke="#231f20" stroke-width="0.9"/><circle cx="287.0" cy="268.9" r="4.3" fill="#0f8345" stroke="#231f20" stroke-width="0.9"/><circle cx="307.5" cy="271.4" r="4.3" fill="#0f8345" stroke="#231f20" stroke-width="0.9"/><circle cx="328.0" cy="269.8" r="4.3" fill="#0f8345" stroke="#231f20" stroke-width="0.9"/><circle cx="348.5" cy="265.3" r="4.3" fill="#0f8345" stroke="#231f20" stroke-width="0.9"/><circle cx="369.0" cy="264.8" r="4.3" fill="#0f8345" stroke="#231f20" stroke-width="0.9"/><circle cx="389.5" cy="264.8" r="4.3" fill="#0f8345" stroke="#231f20" stroke-width="0.9"/><circle cx="184.5" cy="281" r="4.3" fill="#ffffff" stroke="#231f20" stroke-width="0.9"/><circle cx="205.0" cy="202.2" r="4.3" fill="#ffffff" stroke="#231f20" stroke-width="0.9"/><circle cx="225.5" cy="207.4" r="4.3" fill="#ffffff" stroke="#231f20" stroke-width="0.9"/><circle cx="246.0" cy="228.6" r="4.3" fill="#ffffff" stroke="#231f20" stroke-width="0.9"/><circle cx="266.5" cy="242.2" r="4.3" fill="#ffffff" stroke="#231f20" stroke-width="0.9"/><circle cx="287.0" cy="253" r="4.3" fill="#ffffff" stroke="#231f20" stroke-width="0.9"/><circle cx="307.5" cy="250.1" r="4.3" fill="#ffffff" stroke="#231f20" stroke-width="0.9"/><circle cx="328.0" cy="255.5" r="4.3" fill="#ffffff" stroke="#231f20" stroke-width="0.9"/><circle cx="348.5" cy="253.7" r="4.3" fill="#ffffff" stroke="#231f20" stroke-width="0.9"/><circle cx="369.0" cy="255.5" r="4.3" fill="#ffffff" stroke="#231f20" stroke-width="0.9"/><circle cx="389.5" cy="256.4" r="4.3" fill="#ffffff" stroke="#231f20" stroke-width="0.9"/><rect x="421.4" y="248.4" width="31.8" height="50.099999999999994" fill="#fff" stroke="#231f20" stroke-width="1"/><rect x="460.6" y="279.2" width="31.7" height="19.30000000000001" fill="#1a8a4c" stroke="#231f20" stroke-width="1"/><rect x="500.5" y="275" width="30.9" height="23.5" fill="#f5ab62" stroke="#231f20" stroke-width="1"/><line x1="437.2" y1="240.8" x2="437.2" y2="254.6" stroke="#231f20" stroke-width="0.9" /><line x1="429.9" y1="240.8" x2="444.5" y2="240.8" stroke="#231f20" stroke-width="1.0" /><line x1="429.9" y1="254.6" x2="444.5" y2="254.6" stroke="#231f20" stroke-width="1.0" /><line x1="476.5" y1="271.4" x2="476.5" y2="287.5" stroke="#231f20" stroke-width="0.9" /><line x1="469.2" y1="271.4" x2="483.8" y2="271.4" stroke="#231f20" stroke-width="1.0" /><line x1="469.2" y1="287.5" x2="483.8" y2="287.5" stroke="#231f20" stroke-width="1.0" /><line x1="515.3" y1="267.6" x2="515.3" y2="281.8" stroke="#231f20" stroke-width="0.9" /><line x1="506.9" y1="267.6" x2="523.6999999999999" y2="267.6" stroke="#231f20" stroke-width="1.0" /><line x1="506.9" y1="281.8" x2="523.6999999999999" y2="281.8" stroke="#231f20" stroke-width="1.0" /><circle cx="430" cy="218.4" r="1.9" fill="#fff" stroke="#444" stroke-width="0.8"/><circle cx="444.6" cy="219.5" r="1.9" fill="#fff" stroke="#444" stroke-width="0.8"/><circle cx="437.1" cy="233.9" r="1.9" fill="#fff" stroke="#444" stroke-width="0.8"/><circle cx="437.1" cy="244.6" r="1.9" fill="#fff" stroke="#444" stroke-width="0.8"/><circle cx="437.1" cy="254.5" r="1.9" fill="#fff" stroke="#444" stroke-width="0.8"/><circle cx="444.6" cy="253.6" r="1.9" fill="#fff" stroke="#444" stroke-width="0.8"/><circle cx="437.1" cy="262" r="1.9" fill="#fff" stroke="#444" stroke-width="0.8"/><circle cx="437.1" cy="268.3" r="1.9" fill="#fff" stroke="#444" stroke-width="0.8"/><circle cx="437.1" cy="274.6" r="1.9" fill="#fff" stroke="#444" stroke-width="0.8"/><circle cx="476.4" cy="207.2" r="1.9" fill="#1a9a55" stroke="#1b3a25" stroke-width="0.7"/><circle cx="476.5" cy="277.5" r="1.9" fill="#1a9a55" stroke="#1b3a25" stroke-width="0.7"/><circle cx="476.5" cy="285.1" r="1.9" fill="#1a9a55" stroke="#1b3a25" stroke-width="0.7"/><circle cx="469.1" cy="285.1" r="1.9" fill="#1a9a55" stroke="#1b3a25" stroke-width="0.7"/><circle cx="483.6" cy="281.9" r="1.9" fill="#1a9a55" stroke="#1b3a25" stroke-width="0.7"/><circle cx="483.6" cy="286.4" r="1.9" fill="#1a9a55" stroke="#1b3a25" stroke-width="0.7"/><circle cx="469.1" cy="289.6" r="1.9" fill="#1a9a55" stroke="#1b3a25" stroke-width="0.7"/><circle cx="476.5" cy="291.3" r="1.9" fill="#1a9a55" stroke="#1b3a25" stroke-width="0.7"/><circle cx="483.6" cy="292.2" r="1.9" fill="#1a9a55" stroke="#1b3a25" stroke-width="0.7"/><circle cx="469.1" cy="295.3" r="1.9" fill="#1a9a55" stroke="#1b3a25" stroke-width="0.7"/><circle cx="515.7" cy="253.6" r="1.9" fill="#e9772f" stroke="#5a3a20" stroke-width="0.7"/><circle cx="523.1" cy="249.8" r="1.9" fill="#e9772f" stroke="#5a3a20" stroke-width="0.7"/><circle cx="508.8" cy="270.3" r="1.9" fill="#e9772f" stroke="#5a3a20" stroke-width="0.7"/><circle cx="515.7" cy="273" r="1.9" fill="#e9772f" stroke="#5a3a20" stroke-width="0.7"/><circle cx="515.7" cy="288.1" r="1.9" fill="#e9772f" stroke="#5a3a20" stroke-width="0.7"/><circle cx="523.1" cy="293.3" r="1.9" fill="#e9772f" stroke="#5a3a20" stroke-width="0.7"/><circle cx="508.8" cy="296.1" r="1.9" fill="#e9772f" stroke="#5a3a20" stroke-width="0.7"/><text x="426.46" y="308.60" font-size="9.884" textLength="20.66" lengthAdjust="spacingAndGlyphs" fill="#231f20" stroke="#231f20" stroke-width="0.15" stroke-linejoin="round">VEH</text><text x="467.97" y="308.60" font-size="9.739" textLength="16.81" lengthAdjust="spacingAndGlyphs" fill="#231f20" stroke="#231f20" stroke-width="0.15" stroke-linejoin="round">PIC</text><text x="500.80" y="308.60" font-size="9.884" textLength="29.73" lengthAdjust="spacingAndGlyphs" fill="#231f20" stroke="#231f20" stroke-width="0.15" stroke-linejoin="round">BDNF</text><text x="560.38" y="20.80" font-size="25.063" textLength="14.48" lengthAdjust="spacingAndGlyphs" fill="#231f20" stroke="#231f20" stroke-width="0.45" stroke-linejoin="round">C</text><rect x="664.3" y="30" width="2.2" height="33.5" fill="#9c9c9c"/><rect x="664.3" y="70" width="2.2" height="16.5" fill="#9c9c9c"/><rect x="664.3" y="111.5" width="2.2" height="19.5" fill="#9c9c9c"/><rect x="664.3" y="144" width="2.2" height="28" fill="#9c9c9c"/><rect x="664.3" y="206" width="2.2" height="20" fill="#9c9c9c"/><rect x="664.3" y="234" width="2.2" height="15.5" fill="#9c9c9c"/><path d="M664.40,30.00 C664.08,28.97 663.87,25.88 662.50,23.80 C661.13,21.72 658.75,19.28 656.20,17.50 C653.65,15.72 650.48,13.98 647.20,13.10 C643.92,12.22 640.03,12.17 636.50,12.20 C632.97,12.23 628.83,12.70 626.00,13.30 C623.17,13.90 621.83,14.93 619.50,15.80 C617.17,16.67 615.95,17.32 612.00,18.50 C608.05,19.68 600.88,20.67 595.80,22.90 C590.72,25.13 585.23,28.92 581.50,31.90 C577.77,34.88 575.33,37.52 573.40,40.80 C571.47,44.08 570.70,47.72 569.90,51.60 C569.10,55.48 568.70,60.92 568.60,64.10 C568.50,67.28 568.80,68.10 569.30,70.70 C569.80,73.30 570.45,77.05 571.60,79.70 C572.75,82.35 575.43,85.45 576.20,86.60 L576.80,89.20 C577.58,90.30 579.52,93.65 581.50,95.80 C583.48,97.95 586.02,100.33 588.70,102.10 C591.38,103.87 596.12,105.68 597.60,106.40 L640.00,112.00 L664.40,112.00 C664.40,110.67 664.52,106.58 664.40,104.00 C664.28,101.42 664.28,98.50 663.70,96.50 C663.12,94.50 661.20,93.22 660.90,92.00 C660.60,90.78 661.32,90.12 661.90,89.20 C662.48,88.28 663.98,88.03 664.40,86.50 C664.82,84.97 664.40,81.08 664.40,80.00 L664.40,70.00 C664.18,69.47 663.10,67.88 663.10,66.80 C663.10,65.72 664.18,64.05 664.40,63.50 L664.40,30.00 Z" fill="#fff" stroke="#262626" stroke-width="0.95" stroke-linejoin="round"/><g transform="translate(1330.80,0) scale(-1,1)"><path d="M664.40,30.00 C664.08,28.97 663.87,25.88 662.50,23.80 C661.13,21.72 658.75,19.28 656.20,17.50 C653.65,15.72 650.48,13.98 647.20,13.10 C643.92,12.22 640.03,12.17 636.50,12.20 C632.97,12.23 628.83,12.70 626.00,13.30 C623.17,13.90 621.83,14.93 619.50,15.80 C617.17,16.67 615.95,17.32 612.00,18.50 C608.05,19.68 600.88,20.67 595.80,22.90 C590.72,25.13 585.23,28.92 581.50,31.90 C577.77,34.88 575.33,37.52 573.40,40.80 C571.47,44.08 570.70,47.72 569.90,51.60 C569.10,55.48 568.70,60.92 568.60,64.10 C568.50,67.28 568.80,68.10 569.30,70.70 C569.80,73.30 570.45,77.05 571.60,79.70 C572.75,82.35 575.43,85.45 576.20,86.60 L576.80,89.20 C577.58,90.30 579.52,93.65 581.50,95.80 C583.48,97.95 586.02,100.33 588.70,102.10 C591.38,103.87 596.12,105.68 597.60,106.40 L640.00,112.00 L664.40,112.00 C664.40,110.67 664.52,106.58 664.40,104.00 C664.28,101.42 664.28,98.50 663.70,96.50 C663.12,94.50 661.20,93.22 660.90,92.00 C660.60,90.78 661.32,90.12 661.90,89.20 C662.48,88.28 663.98,88.03 664.40,86.50 C664.82,84.97 664.40,81.08 664.40,80.00 L664.40,70.00 C664.18,69.47 663.10,67.88 663.10,66.80 C663.10,65.72 664.18,64.05 664.40,63.50 L664.40,30.00 Z" fill="#fff" stroke="#262626" stroke-width="0.95" stroke-linejoin="round"/></g><path d="M619.3,57.9 C620,54 625,52.3 628,52.4 C633,52.5 636,54.5 638,58 C639.5,61 640.8,65 641.3,68.1 C639,65.5 636,62.5 633,61.3 C629,60 623,61 619.3,57.9 Z" fill="#e1e1e1"/><g transform="translate(1330.80,0) scale(-1,1)"><path d="M619.3,57.9 C620,54 625,52.3 628,52.4 C633,52.5 636,54.5 638,58 C639.5,61 640.8,65 641.3,68.1 C639,65.5 636,62.5 633,61.3 C629,60 623,61 619.3,57.9 Z" fill="#e1e1e1"/></g><path d="M597.8,107.4 L612.6,98.0" stroke="#262626" stroke-width="1.1" fill="none"/><ellipse cx="614.2" cy="97.1" rx="1.9" ry="1.25" transform="rotate(-30 614.2 97.1)" fill="#fff" stroke="#262626" stroke-width="0.75"/><g transform="translate(1330.80,0) scale(-1,1)"><path d="M597.8,107.4 L612.6,98.0" stroke="#262626" stroke-width="1.1" fill="none"/><ellipse cx="614.2" cy="97.1" rx="1.9" ry="1.25" transform="rotate(-30 614.2 97.1)" fill="#fff" stroke="#262626" stroke-width="0.75"/></g><ellipse cx="641.7" cy="96.4" rx="2.3" ry="1.3" fill="#111"/><ellipse cx="689.1" cy="96.4" rx="2.3" ry="1.3" fill="#fff" stroke="#262626" stroke-width="0.6"/><path d="M664.40,111.50 C664.08,110.67 663.22,107.93 662.50,106.50 C661.78,105.07 661.70,104.20 660.10,102.90 C658.50,101.60 655.88,99.75 652.90,98.70 C649.92,97.65 646.67,96.63 642.20,96.60 C637.73,96.57 631.47,97.28 626.10,98.50 C620.73,99.72 614.60,102.28 610.00,103.90 C605.40,105.52 602.35,106.32 598.50,108.20 C594.65,110.08 590.48,112.40 586.90,115.20 C583.32,118.00 579.70,121.57 577.00,125.00 C574.30,128.43 572.27,132.20 570.70,135.80 C569.13,139.40 568.12,142.72 567.60,146.60 C567.08,150.48 567.37,156.12 567.60,159.10 C567.83,162.08 568.23,162.58 569.00,164.50 C569.77,166.42 571.67,169.58 572.20,170.60 L573.20,172.60 C573.98,173.83 575.62,177.27 577.90,180.00 C580.18,182.73 583.92,186.75 586.90,189.00 C589.88,191.25 593.88,192.65 595.80,193.50 C597.72,194.35 597.97,194.00 598.40,194.10 C598.35,194.73 597.52,196.43 598.10,197.90 C598.68,199.37 601.27,202.07 601.90,202.90 L640.00,204.00 L659.10,197.50 L664.40,191.50 C664.40,190.58 664.63,187.83 664.40,186.00 C664.17,184.17 663.47,181.83 663.00,180.50 C662.53,179.17 661.63,178.83 661.60,178.00 C661.57,177.17 662.33,176.50 662.80,175.50 C663.27,174.50 664.13,172.58 664.40,172.00 L664.40,144.00 C664.15,142.93 662.90,139.77 662.90,137.60 C662.90,135.43 664.15,132.10 664.40,131.00 L664.40,111.50 Z" fill="#fff" stroke="#262626" stroke-width="0.95" stroke-linejoin="round"/><g transform="translate(1330.80,0) scale(-1,1)"><path d="M664.40,111.50 C664.08,110.67 663.22,107.93 662.50,106.50 C661.78,105.07 661.70,104.20 660.10,102.90 C658.50,101.60 655.88,99.75 652.90,98.70 C649.92,97.65 646.67,96.63 642.20,96.60 C637.73,96.57 631.47,97.28 626.10,98.50 C620.73,99.72 614.60,102.28 610.00,103.90 C605.40,105.52 602.35,106.32 598.50,108.20 C594.65,110.08 590.48,112.40 586.90,115.20 C583.32,118.00 579.70,121.57 577.00,125.00 C574.30,128.43 572.27,132.20 570.70,135.80 C569.13,139.40 568.12,142.72 567.60,146.60 C567.08,150.48 567.37,156.12 567.60,159.10 C567.83,162.08 568.23,162.58 569.00,164.50 C569.77,166.42 571.67,169.58 572.20,170.60 L573.20,172.60 C573.98,173.83 575.62,177.27 577.90,180.00 C580.18,182.73 583.92,186.75 586.90,189.00 C589.88,191.25 593.88,192.65 595.80,193.50 C597.72,194.35 597.97,194.00 598.40,194.10 C598.35,194.73 597.52,196.43 598.10,197.90 C598.68,199.37 601.27,202.07 601.90,202.90 L640.00,204.00 L659.10,197.50 L664.40,191.50 C664.40,190.58 664.63,187.83 664.40,186.00 C664.17,184.17 663.47,181.83 663.00,180.50 C662.53,179.17 661.63,178.83 661.60,178.00 C661.57,177.17 662.33,176.50 662.80,175.50 C663.27,174.50 664.13,172.58 664.40,172.00 L664.40,144.00 C664.15,142.93 662.90,139.77 662.90,137.60 C662.90,135.43 664.15,132.10 664.40,131.00 L664.40,111.50 Z" fill="#fff" stroke="#262626" stroke-width="0.95" stroke-linejoin="round"/></g><path d="M607.90,159.50 C606.83,158.70 607.43,152.47 608.20,149.50 C608.97,146.53 610.38,143.97 612.50,141.70 C614.62,139.43 618.10,137.42 620.90,135.90 C623.70,134.38 627.03,133.13 629.30,132.60 C631.57,132.07 633.03,132.05 634.50,132.70 C635.97,133.35 637.37,134.65 638.10,136.50 C638.83,138.35 638.95,141.18 638.90,143.80 C638.85,146.42 637.80,149.58 637.80,152.20 C637.80,154.82 638.23,157.42 638.90,159.50 C639.57,161.58 640.53,163.42 641.80,164.70 C643.07,165.98 645.97,166.23 646.50,167.20 C647.03,168.17 645.92,169.78 645.00,170.50 C644.08,171.22 642.08,171.67 641.00,171.50 C639.92,171.33 639.42,170.98 638.50,169.50 C637.58,168.02 636.68,164.78 635.50,162.60 C634.32,160.42 633.48,158.00 631.40,156.40 C629.32,154.80 625.80,153.35 623.00,153.00 C620.20,152.65 617.12,153.22 614.60,154.30 C612.08,155.38 608.97,160.30 607.90,159.50 Z" fill="#e3e3e3"/><g transform="translate(1330.80,0) scale(-1,1)"><path d="M607.90,159.50 C606.83,158.70 607.43,152.47 608.20,149.50 C608.97,146.53 610.38,143.97 612.50,141.70 C614.62,139.43 618.10,137.42 620.90,135.90 C623.70,134.38 627.03,133.13 629.30,132.60 C631.57,132.07 633.03,132.05 634.50,132.70 C635.97,133.35 637.37,134.65 638.10,136.50 C638.83,138.35 638.95,141.18 638.90,143.80 C638.85,146.42 637.80,149.58 637.80,152.20 C637.80,154.82 638.23,157.42 638.90,159.50 C639.57,161.58 640.53,163.42 641.80,164.70 C643.07,165.98 645.97,166.23 646.50,167.20 C647.03,168.17 645.92,169.78 645.00,170.50 C644.08,171.22 642.08,171.67 641.00,171.50 C639.92,171.33 639.42,170.98 638.50,169.50 C637.58,168.02 636.68,164.78 635.50,162.60 C634.32,160.42 633.48,158.00 631.40,156.40 C629.32,154.80 625.80,153.35 623.00,153.00 C620.20,152.65 617.12,153.22 614.60,154.30 C612.08,155.38 608.97,160.30 607.90,159.50 Z" fill="#e3e3e3"/></g><path d="M631.00,188.00 C630.55,186.55 632.72,183.08 633.80,180.50 C634.88,177.92 636.22,174.17 637.50,172.50 C638.78,170.83 640.08,170.50 641.50,170.50 C642.92,170.50 644.87,171.33 646.00,172.50 C647.13,173.67 648.03,175.48 648.30,177.50 C648.57,179.52 648.57,182.82 647.60,184.60 C646.63,186.38 644.35,187.43 642.50,188.20 C640.65,188.97 638.42,189.23 636.50,189.20 C634.58,189.17 631.45,189.45 631.00,188.00 Z" fill="#ececec"/><g transform="translate(1330.80,0) scale(-1,1)"><path d="M631.00,188.00 C630.55,186.55 632.72,183.08 633.80,180.50 C634.88,177.92 636.22,174.17 637.50,172.50 C638.78,170.83 640.08,170.50 641.50,170.50 C642.92,170.50 644.87,171.33 646.00,172.50 C647.13,173.67 648.03,175.48 648.30,177.50 C648.57,179.52 648.57,182.82 647.60,184.60 C646.63,186.38 644.35,187.43 642.50,188.20 C640.65,188.97 638.42,189.23 636.50,189.20 C634.58,189.17 631.45,189.45 631.00,188.00 Z" fill="#ececec"/></g><path d="M640.8,175.5 C641,173.5 643,172.4 644.5,172.9 C646.5,173.6 647.6,176.5 648.2,182.6 C646.4,180 644.5,178.6 642.8,178 C641.5,177.6 640.8,176.8 640.8,175.5 Z" fill="#111"/><g transform="translate(1330.80,0) scale(-1,1)"><path d="M640.8,175.5 C641,173.5 643,172.4 644.5,172.9 C646.5,173.6 647.6,176.5 648.2,182.6 C646.4,180 644.5,178.6 642.8,178 C641.5,177.6 640.8,176.8 640.8,175.5 Z" fill="#111"/></g><path d="M598.4,194.1 L609.7,188.1" stroke="#262626" stroke-width="0.7" fill="none"/><g transform="translate(1330.80,0) scale(-1,1)"><path d="M598.4,194.1 L609.7,188.1" stroke="#262626" stroke-width="0.7" fill="none"/></g><path d="M665.20,204.90 L659.10,197.50 C658.32,196.98 656.97,195.03 654.40,194.40 C651.83,193.77 647.87,193.67 643.70,193.70 C639.53,193.73 634.37,193.90 629.40,194.60 C624.43,195.30 618.48,196.52 613.90,197.90 C609.32,199.28 605.88,201.30 601.90,202.90 C597.92,204.50 594.00,205.65 590.00,207.50 C586.00,209.35 580.98,211.98 577.90,214.00 C574.82,216.02 573.40,217.27 571.50,219.60 C569.60,221.93 567.60,224.98 566.50,228.00 C565.40,231.02 565.00,233.35 564.90,237.70 C564.80,242.05 565.13,249.72 565.90,254.10 C566.67,258.48 567.75,260.98 569.50,264.00 C571.25,267.02 574.48,269.62 576.40,272.20 C578.32,274.78 579.07,277.45 581.00,279.50 C582.93,281.55 585.73,283.05 588.00,284.50 C590.27,285.95 593.50,287.58 594.60,288.20 L593.80,292.50 C594.33,293.17 595.45,295.10 597.00,296.50 C598.55,297.90 600.07,299.38 603.10,300.90 C606.13,302.42 610.95,304.03 615.20,305.60 C619.45,307.17 624.58,309.30 628.60,310.30 C632.62,311.30 636.17,311.60 639.30,311.60 C642.43,311.60 645.15,311.18 647.40,310.30 C649.65,309.42 651.23,308.08 652.80,306.30 C654.37,304.52 655.95,301.23 656.80,299.60 C657.65,297.97 657.77,297.40 657.90,296.50 C658.03,295.60 657.40,295.08 657.60,294.20 C657.80,293.32 658.87,292.10 659.10,291.20 C659.33,290.30 658.75,289.63 659.00,288.80 C659.25,287.97 660.32,287.07 660.60,286.20 C660.88,285.33 660.42,284.43 660.70,283.60 C660.98,282.77 662.00,281.97 662.30,281.20 C662.60,280.43 662.18,279.97 662.50,279.00 C662.82,278.03 663.75,276.73 664.20,275.40 C664.65,274.07 665.10,272.57 665.20,271.00 C665.30,269.43 665.32,268.33 664.80,266.00 C664.28,263.67 662.22,259.75 662.10,257.00 C661.98,254.25 663.77,250.75 664.10,249.50 L664.10,234.00 C663.90,233.30 662.90,231.13 662.90,229.80 C662.90,228.47 663.90,226.63 664.10,226.00 L664.10,206.00 L665.20,204.90 Z" fill="#fff" stroke="#262626" stroke-width="0.95" stroke-linejoin="round"/><g transform="translate(1330.80,0) scale(-1,1)"><path d="M665.20,204.90 L659.10,197.50 C658.32,196.98 656.97,195.03 654.40,194.40 C651.83,193.77 647.87,193.67 643.70,193.70 C639.53,193.73 634.37,193.90 629.40,194.60 C624.43,195.30 618.48,196.52 613.90,197.90 C609.32,199.28 605.88,201.30 601.90,202.90 C597.92,204.50 594.00,205.65 590.00,207.50 C586.00,209.35 580.98,211.98 577.90,214.00 C574.82,216.02 573.40,217.27 571.50,219.60 C569.60,221.93 567.60,224.98 566.50,228.00 C565.40,231.02 565.00,233.35 564.90,237.70 C564.80,242.05 565.13,249.72 565.90,254.10 C566.67,258.48 567.75,260.98 569.50,264.00 C571.25,267.02 574.48,269.62 576.40,272.20 C578.32,274.78 579.07,277.45 581.00,279.50 C582.93,281.55 585.73,283.05 588.00,284.50 C590.27,285.95 593.50,287.58 594.60,288.20 L593.80,292.50 C594.33,293.17 595.45,295.10 597.00,296.50 C598.55,297.90 600.07,299.38 603.10,300.90 C606.13,302.42 610.95,304.03 615.20,305.60 C619.45,307.17 624.58,309.30 628.60,310.30 C632.62,311.30 636.17,311.60 639.30,311.60 C642.43,311.60 645.15,311.18 647.40,310.30 C649.65,309.42 651.23,308.08 652.80,306.30 C654.37,304.52 655.95,301.23 656.80,299.60 C657.65,297.97 657.77,297.40 657.90,296.50 C658.03,295.60 657.40,295.08 657.60,294.20 C657.80,293.32 658.87,292.10 659.10,291.20 C659.33,290.30 658.75,289.63 659.00,288.80 C659.25,287.97 660.32,287.07 660.60,286.20 C660.88,285.33 660.42,284.43 660.70,283.60 C660.98,282.77 662.00,281.97 662.30,281.20 C662.60,280.43 662.18,279.97 662.50,279.00 C662.82,278.03 663.75,276.73 664.20,275.40 C664.65,274.07 665.10,272.57 665.20,271.00 C665.30,269.43 665.32,268.33 664.80,266.00 C664.28,263.67 662.22,259.75 662.10,257.00 C661.98,254.25 663.77,250.75 664.10,249.50 L664.10,234.00 C663.90,233.30 662.90,231.13 662.90,229.80 C662.90,228.47 663.90,226.63 664.10,226.00 L664.10,206.00 L665.20,204.90 Z" fill="#fff" stroke="#262626" stroke-width="0.95" stroke-linejoin="round"/></g><path d="M598.60,251.10 C598.07,248.05 598.60,245.70 599.80,242.70 C601.00,239.70 603.02,235.88 605.80,233.10 C608.58,230.32 612.33,227.62 616.50,226.00 C620.67,224.38 627.22,223.43 630.80,223.40 C634.38,223.37 635.80,223.98 638.00,225.80 C640.20,227.62 642.33,230.88 644.00,234.30 C645.67,237.72 646.93,242.32 648.00,246.30 C649.07,250.28 649.87,255.17 650.40,258.20 C650.93,261.23 651.43,263.70 651.20,264.50 C650.97,265.30 649.95,265.25 649.00,263.00 C648.05,260.75 647.08,254.75 645.50,251.00 C643.92,247.25 641.92,243.47 639.50,240.50 C637.08,237.53 633.83,234.52 631.00,233.20 C628.17,231.88 625.32,232.42 622.50,232.60 C619.68,232.78 616.50,233.22 614.10,234.30 C611.70,235.38 609.48,237.10 608.10,239.10 C606.72,241.10 606.00,243.52 605.80,246.30 C605.60,249.08 605.92,253.02 606.90,255.80 C607.88,258.58 609.90,260.80 611.70,263.00 C613.50,265.20 616.10,267.00 617.70,269.00 C619.30,271.00 620.50,273.00 621.30,275.00 C622.10,277.00 623.22,281.00 622.50,281.00 C621.78,281.00 619.08,277.17 617.00,275.00 C614.92,272.83 612.33,270.33 610.00,268.00 C607.67,265.67 604.90,263.82 603.00,261.00 C601.10,258.18 599.13,254.15 598.60,251.10 Z" fill="#e3e3e3"/><g transform="translate(1330.80,0) scale(-1,1)"><path d="M598.60,251.10 C598.07,248.05 598.60,245.70 599.80,242.70 C601.00,239.70 603.02,235.88 605.80,233.10 C608.58,230.32 612.33,227.62 616.50,226.00 C620.67,224.38 627.22,223.43 630.80,223.40 C634.38,223.37 635.80,223.98 638.00,225.80 C640.20,227.62 642.33,230.88 644.00,234.30 C645.67,237.72 646.93,242.32 648.00,246.30 C649.07,250.28 649.87,255.17 650.40,258.20 C650.93,261.23 651.43,263.70 651.20,264.50 C650.97,265.30 649.95,265.25 649.00,263.00 C648.05,260.75 647.08,254.75 645.50,251.00 C643.92,247.25 641.92,243.47 639.50,240.50 C637.08,237.53 633.83,234.52 631.00,233.20 C628.17,231.88 625.32,232.42 622.50,232.60 C619.68,232.78 616.50,233.22 614.10,234.30 C611.70,235.38 609.48,237.10 608.10,239.10 C606.72,241.10 606.00,243.52 605.80,246.30 C605.60,249.08 605.92,253.02 606.90,255.80 C607.88,258.58 609.90,260.80 611.70,263.00 C613.50,265.20 616.10,267.00 617.70,269.00 C619.30,271.00 620.50,273.00 621.30,275.00 C622.10,277.00 623.22,281.00 622.50,281.00 C621.78,281.00 619.08,277.17 617.00,275.00 C614.92,272.83 612.33,270.33 610.00,268.00 C607.67,265.67 604.90,263.82 603.00,261.00 C601.10,258.18 599.13,254.15 598.60,251.10 Z" fill="#e3e3e3"/></g><path d="M622.50,232.80 C621.10,233.05 616.50,233.25 614.10,234.30 C611.70,235.35 609.48,237.10 608.10,239.10 C606.72,241.10 606.00,243.52 605.80,246.30 C605.60,249.08 605.92,253.02 606.90,255.80 C607.88,258.58 609.90,260.80 611.70,263.00 C613.50,265.20 616.10,267.00 617.70,269.00 C619.30,271.00 620.50,272.82 621.30,275.00 C622.10,277.18 621.90,279.92 622.50,282.10 C623.10,284.28 623.52,286.30 624.90,288.10 C626.28,289.90 628.62,291.50 630.80,292.90 C632.98,294.30 636.80,295.90 638.00,296.50" fill="none" stroke="#262626" stroke-width="0.6"/><g transform="translate(1330.80,0) scale(-1,1)"><path d="M622.50,232.80 C621.10,233.05 616.50,233.25 614.10,234.30 C611.70,235.35 609.48,237.10 608.10,239.10 C606.72,241.10 606.00,243.52 605.80,246.30 C605.60,249.08 605.92,253.02 606.90,255.80 C607.88,258.58 609.90,260.80 611.70,263.00 C613.50,265.20 616.10,267.00 617.70,269.00 C619.30,271.00 620.50,272.82 621.30,275.00 C622.10,277.18 621.90,279.92 622.50,282.10 C623.10,284.28 623.52,286.30 624.90,288.10 C626.28,289.90 628.62,291.50 630.80,292.90 C632.98,294.30 636.80,295.90 638.00,296.50" fill="none" stroke="#262626" stroke-width="0.6"/></g><path d="M651.20,265.40 C651.60,267.00 653.07,271.90 653.60,275.00 C654.13,278.10 654.58,281.33 654.40,284.00 C654.22,286.67 653.45,289.08 652.50,291.00 C651.55,292.92 649.33,294.75 648.70,295.50" fill="none" stroke="#c8c8c8" stroke-width="0.9"/><g transform="translate(1330.80,0) scale(-1,1)"><path d="M651.20,265.40 C651.60,267.00 653.07,271.90 653.60,275.00 C654.13,278.10 654.58,281.33 654.40,284.00 C654.22,286.67 653.45,289.08 652.50,291.00 C651.55,292.92 649.33,294.75 648.70,295.50" fill="none" stroke="#c8c8c8" stroke-width="0.9"/></g><path d="M621.30,231.30 C622.88,231.57 627.82,231.48 630.80,232.90 C633.78,234.32 636.80,236.85 639.20,239.80 C641.60,242.75 643.60,246.98 645.20,250.60 C646.80,254.22 648.20,259.68 648.80,261.50" fill="none" stroke="#111" stroke-width="1.6" stroke-linecap="round"/><ellipse cx="649.2" cy="262.6" rx="1.3" ry="2.1" fill="#111" transform="rotate(-15 649.2 262.6)"/><g transform="translate(1330.80,0) scale(-1,1)"><path d="M621.30,231.30 C622.88,231.57 627.82,231.48 630.80,232.90 C633.78,234.32 636.80,236.85 639.20,239.80 C641.60,242.75 643.60,246.98 645.20,250.60 C646.80,254.22 648.20,259.68 648.80,261.50" fill="none" stroke="#111" stroke-width="1.6" stroke-linecap="round"/><ellipse cx="649.2" cy="262.6" rx="1.3" ry="2.1" fill="#111" transform="rotate(-15 649.2 262.6)"/></g><ellipse cx="633.2" cy="286.6" rx="4.3" ry="3" fill="#dedede"/><g transform="translate(1330.80,0) scale(-1,1)"><ellipse cx="633.2" cy="286.6" rx="4.3" ry="3" fill="#dedede"/></g><path d="M606.5,302.2 C610,303.6 614,305.2 619.5,306.8 C615,306.6 610,305 606.5,302.2 Z" fill="#e2e2e2" stroke="#e2e2e2" stroke-width="1.2"/><g transform="translate(1330.80,0) scale(-1,1)"><path d="M606.5,302.2 C610,303.6 614,305.2 619.5,306.8 C615,306.6 610,305 606.5,302.2 Z" fill="#e2e2e2" stroke="#e2e2e2" stroke-width="1.2"/></g><line x1="643.6" y1="73.5" x2="687.5" y2="73.5" stroke="#777" stroke-width="0.6" stroke-dasharray="2.6,1.6"/><line x1="643.2" y1="88.4" x2="687.5" y2="88.4" stroke="#777" stroke-width="0.6" stroke-dasharray="2.6,1.6"/><line x1="645.4" y1="151.4" x2="689" y2="151.4" stroke="#777" stroke-width="0.6" stroke-dasharray="2.6,1.6"/><line x1="645.2" y1="175.3" x2="689" y2="175.3" stroke="#777" stroke-width="0.6" stroke-dasharray="2.6,1.6"/><line x1="650.5" y1="248.2" x2="686" y2="248.2" stroke="#777" stroke-width="0.6" stroke-dasharray="2.6,1.6"/><line x1="650.5" y1="265.1" x2="686" y2="265.1" stroke="#777" stroke-width="0.6" stroke-dasharray="2.6,1.6"/><circle cx="647.6" cy="74.9" r="3.1" fill="#fff" stroke="#222" stroke-width="0.6"/><circle cx="650" cy="80.4" r="3.1" fill="#fff" stroke="#222" stroke-width="0.6"/><circle cx="668.7" cy="78.4" r="3.1" fill="#fff" stroke="#222" stroke-width="0.6"/><circle cx="684.8" cy="73.5" r="3.1" fill="#fff" stroke="#222" stroke-width="0.6"/><circle cx="684.8" cy="81" r="3.1" fill="#fff" stroke="#222" stroke-width="0.6"/><circle cx="661.3" cy="82" r="3.1" fill="#14964d" stroke="#222" stroke-width="0.6"/><circle cx="657" cy="81.8" r="3.1" fill="#14964d" stroke="#222" stroke-width="0.6"/><circle cx="663.5" cy="78.4" r="3.1" fill="#14964d" stroke="#222" stroke-width="0.6"/><circle cx="656.1" cy="87.4" r="3.1" fill="#14964d" stroke="#222" stroke-width="0.6"/><circle cx="662.4" cy="86.3" r="3.1" fill="#f49d3e" stroke="#222" stroke-width="0.6"/><circle cx="666.7" cy="83.4" r="3.1" fill="#fff" stroke="#222" stroke-width="0.6"/><circle cx="673" cy="76.2" r="3.1" fill="#14964d" stroke="#222" stroke-width="0.6"/><circle cx="670.9" cy="82" r="3.1" fill="#14964d" stroke="#222" stroke-width="0.6"/><circle cx="674.5" cy="85.2" r="3.1" fill="#14964d" stroke="#222" stroke-width="0.6"/><circle cx="677.2" cy="87.4" r="3.1" fill="#14964d" stroke="#222" stroke-width="0.6"/><circle cx="679.9" cy="82" r="3.1" fill="#f49d3e" stroke="#222" stroke-width="0.6"/><circle cx="649.7" cy="158.9" r="2.7" fill="#f49d3e" stroke="#222" stroke-width="0.6"/><circle cx="649.7" cy="165.7" r="2.7" fill="#fff" stroke="#222" stroke-width="0.6"/><circle cx="653.9" cy="166.7" r="2.7" fill="#fff" stroke="#222" stroke-width="0.6"/><circle cx="661.2" cy="163.6" r="2.7" fill="#fff" stroke="#222" stroke-width="0.6"/><circle cx="676.4" cy="163.6" r="2.7" fill="#fff" stroke="#222" stroke-width="0.6"/><circle cx="657" cy="165.2" r="2.7" fill="#14964d" stroke="#222" stroke-width="0.6"/><circle cx="664.3" cy="166.2" r="2.7" fill="#14964d" stroke="#222" stroke-width="0.6"/><circle cx="671.7" cy="163.1" r="2.7" fill="#14964d" stroke="#222" stroke-width="0.6"/><circle cx="674.3" cy="166.7" r="2.7" fill="#14964d" stroke="#222" stroke-width="0.6"/><circle cx="682.6" cy="158.4" r="2.7" fill="#14964d" stroke="#222" stroke-width="0.6"/><circle cx="682.1" cy="170.4" r="2.7" fill="#14964d" stroke="#222" stroke-width="0.6"/><circle cx="657.5" cy="169.3" r="2.7" fill="#f49d3e" stroke="#222" stroke-width="0.6"/><circle cx="662.3" cy="167.8" r="2.7" fill="#f49d3e" stroke="#222" stroke-width="0.6"/><circle cx="655.5" cy="173" r="2.7" fill="#f49d3e" stroke="#222" stroke-width="0.6"/><circle cx="661.7" cy="172.5" r="2.7" fill="#f49d3e" stroke="#222" stroke-width="0.6"/><circle cx="659.1" cy="175.6" r="2.7" fill="#f49d3e" stroke="#222" stroke-width="0.6"/><circle cx="670.1" cy="169.9" r="2.7" fill="#f49d3e" stroke="#222" stroke-width="0.6"/><circle cx="672.2" cy="171.4" r="2.7" fill="#f49d3e" stroke="#222" stroke-width="0.6"/><circle cx="675.8" cy="172" r="2.7" fill="#f49d3e" stroke="#222" stroke-width="0.6"/><circle cx="674.8" cy="175.6" r="2.7" fill="#f49d3e" stroke="#222" stroke-width="0.6"/><circle cx="681.1" cy="162.5" r="2.7" fill="#f49d3e" stroke="#222" stroke-width="0.6"/><circle cx="683.2" cy="166.7" r="2.7" fill="#f49d3e" stroke="#222" stroke-width="0.6"/><circle cx="659.9" cy="258.7" r="2.8" fill="#14964d" stroke="#222" stroke-width="0.6"/><circle cx="678.5" cy="261.5" r="2.8" fill="#14964d" stroke="#222" stroke-width="0.6"/><line x1="615.7" y1="320.2" x2="628.0" y2="320.2" stroke="#444" stroke-width="0.8"/><circle cx="621.5" cy="320.2" r="3.9" fill="#fff" stroke="#222" stroke-width="0.6"/><text x="628.76" y="322.70" font-size="8.866" textLength="18.37" lengthAdjust="spacingAndGlyphs" fill="#231f20" stroke="#231f20" stroke-width="0.2" stroke-linejoin="round">VEH</text><line x1="648.7" y1="320.2" x2="661.0" y2="320.2" stroke="#444" stroke-width="0.8"/><circle cx="654.5" cy="320.2" r="3.9" fill="#14964d" stroke="#222" stroke-width="0.6"/><text x="662.12" y="322.70" font-size="8.736" textLength="13.79" lengthAdjust="spacingAndGlyphs" fill="#231f20" stroke="#231f20" stroke-width="0.2" stroke-linejoin="round">PIC</text><line x1="678.0" y1="320.2" x2="690.3" y2="320.2" stroke="#444" stroke-width="0.8"/><circle cx="683.8" cy="320.2" r="3.9" fill="#f49d3e" stroke="#222" stroke-width="0.6"/><text x="691.73" y="322.70" font-size="8.866" textLength="25.65" lengthAdjust="spacingAndGlyphs" fill="#231f20" stroke="#231f20" stroke-width="0.2" stroke-linejoin="round">BDNF</text>
</svg></body></html>
